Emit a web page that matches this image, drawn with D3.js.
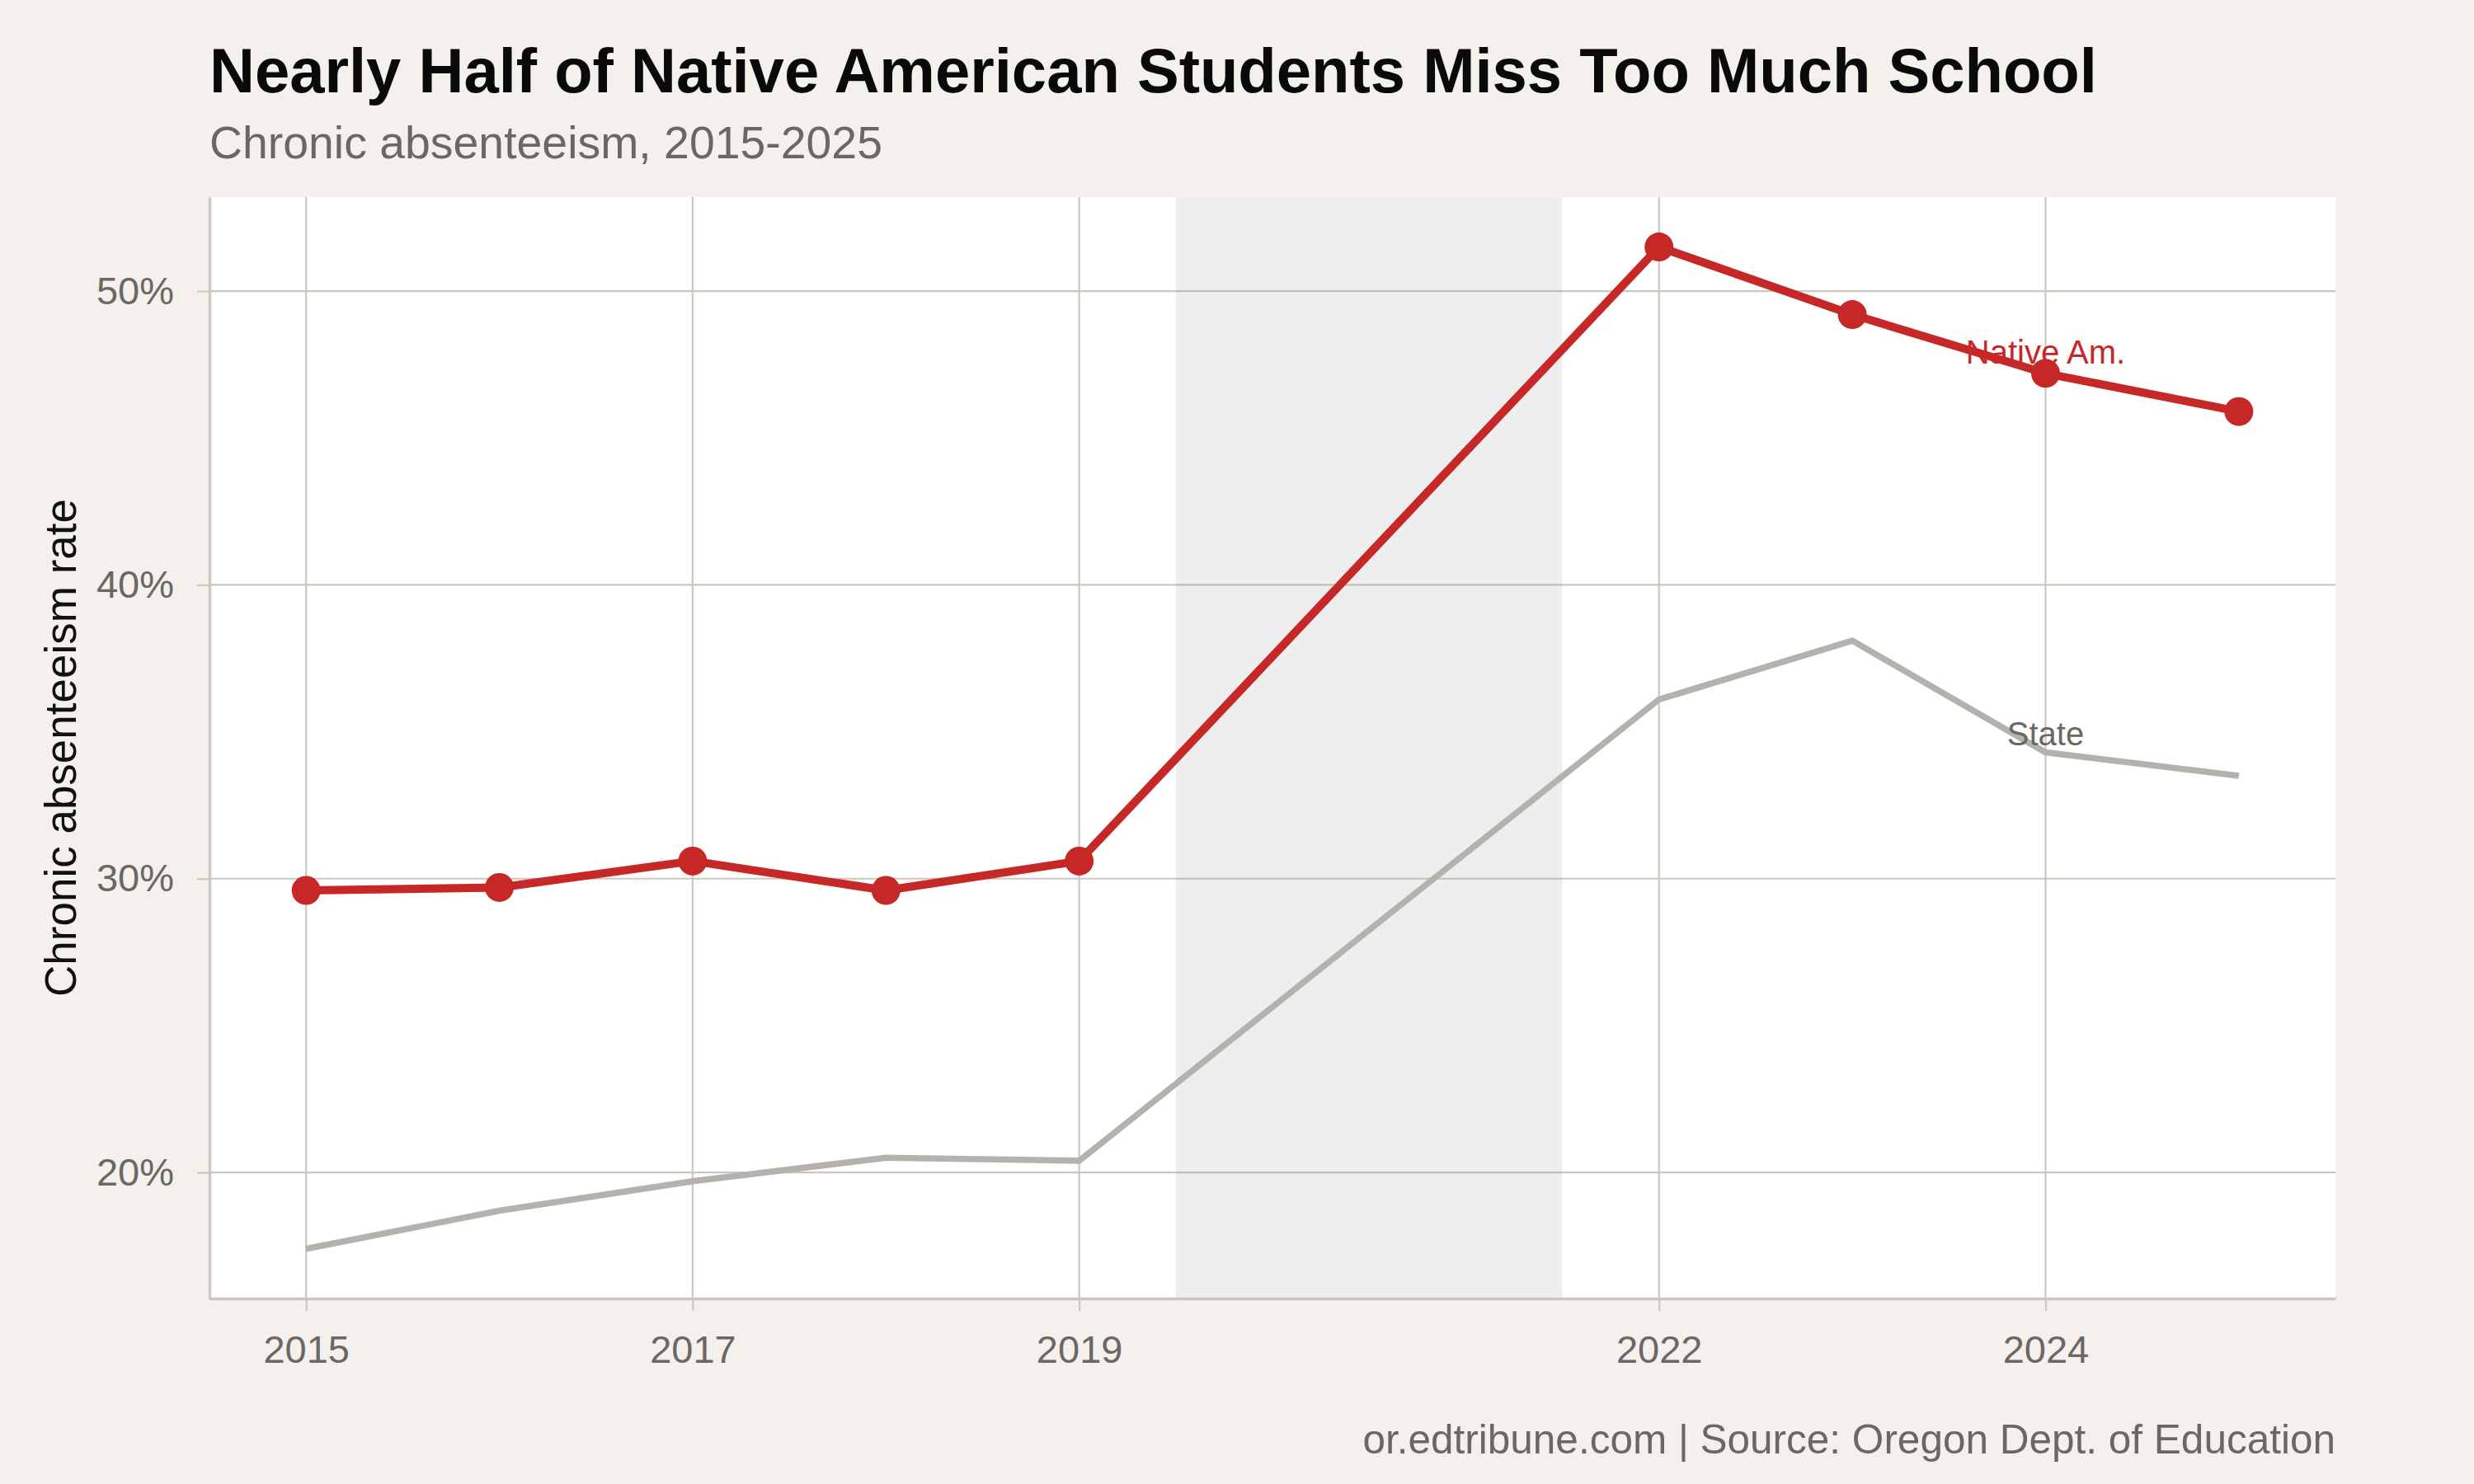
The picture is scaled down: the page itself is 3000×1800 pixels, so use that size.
<!DOCTYPE html>
<html>
<head>
<meta charset="utf-8">
<script src="https://cdn.jsdelivr.net/npm/d3@7"></script>
<style>
  body { margin: 0; background: #f4f1ec; }
  text { font-family: "Liberation Sans", Arial, Helvetica, sans-serif; }
</style>
</head>
<body>
<div id="chart"></div>
<script>
// data
const years = [2015, 2016, 2017, 2018, 2019, 2022, 2023, 2024, 2025]
const nativeAm = [29.6, 29.7, 30.6, 29.6, 30.6, 51.5, 49.2, 47.2, 45.9]
const stateAvg = [17.4, 18.7, 19.7, 20.5, 20.4, 36.1, 38.1, 34.3, 33.5]
const xTicks = [2015, 2017, 2019, 2022, 2024]
const yTicks = [20, 30, 40, 50]
const covidGap = [2019.5, 2021.5]
const labelYear = 2024

const W = 3000, H = 1800
const margin = {top: 239, right: 168, bottom: 225, left: 254}

const RED = "#c62828", GREY_LINE = "#b5b2ae", GRID = "#cdc6bd", TXT = "#6b6762"

const svg = d3.select("#chart").append("svg")
  .attr("width", W).attr("height", H)

svg.append("rect").attr("width", W).attr("height", H).attr("fill", "#f4f1ec")

const x = d3.scaleLinear().domain([2014.5, 2025.5]).range([margin.left, W - margin.right])
const y = d3.scaleLinear().domain([15.71, 53.2]).range([H - margin.bottom, margin.top])

// panel
svg.append("rect")
  .attr("x", x.range()[0]).attr("y", y.range()[1])
  .attr("width", x.range()[1] - x.range()[0])
  .attr("height", y.range()[0] - y.range()[1])
  .attr("fill", "#fff")

// gridlines
svg.append("g").selectAll("line").data(yTicks).join("line")
  .attr("x1", x.range()[0]).attr("x2", x.range()[1])
  .attr("y1", d => y(d)).attr("y2", d => y(d))
  .attr("stroke", GRID).attr("stroke-width", 2.2)
svg.append("g").selectAll("line").data(xTicks).join("line")
  .attr("y1", y.range()[0]).attr("y2", y.range()[1])
  .attr("x1", d => x(d)).attr("x2", d => x(d))
  .attr("stroke", GRID).attr("stroke-width", 2.2)

// shaded covid years
svg.append("rect")
  .attr("x", x(covidGap[0])).attr("width", x(covidGap[1]) - x(covidGap[0]))
  .attr("y", y.range()[1]).attr("height", y.range()[0] - y.range()[1])
  .attr("fill", "#888").attr("fill-opacity", 0.14)

// axes
const xAxis = svg.append("g")
  .attr("transform", "translate(0," + y.range()[0] + ")")
  .call(d3.axisBottom(x).tickValues(xTicks).tickFormat(d3.format("d")).tickSize(15).tickPadding(30).tickSizeOuter(0))
const yAxis = svg.append("g")
  .attr("transform", "translate(" + x.range()[0] + ",0)")
  .call(d3.axisLeft(y).tickValues(yTicks).tickFormat(d => d + "%").tickSize(15).tickPadding(28).tickSizeOuter(0))

for (const ax of [xAxis, yAxis]) {
  ax.select(".domain").attr("stroke", GRID).attr("stroke-width", 3.5)
  ax.selectAll(".tick line").attr("stroke", GRID).attr("stroke-width", 2.2)
  ax.selectAll(".tick text").attr("fill", TXT).attr("font-size", 47)
    .attr("font-family", "'Liberation Sans', Arial, Helvetica, sans-serif")
}
xAxis.selectAll(".tick text").attr("dy", "0.71em")

// lines
const rows = years.map((yr, i) => ({year: yr, native: nativeAm[i], state: stateAvg[i]}))

svg.append("path").datum(rows)
  .attr("fill", "none").attr("stroke", GREY_LINE).attr("stroke-width", 7.5)
  .attr("d", d3.line().x(d => x(d.year)).y(d => y(d.state)))

svg.append("path").datum(rows)
  .attr("fill", "none").attr("stroke", RED).attr("stroke-width", 10)
  .attr("stroke-linejoin", "round")
  .attr("d", d3.line().x(d => x(d.year)).y(d => y(d.native)))

svg.append("g").selectAll("circle").data(rows).join("circle")
  .attr("cx", d => x(d.year)).attr("cy", d => y(d.native))
  .attr("r", 17.5).attr("fill", RED)

// direct labels
const lbl = rows.find(d => d.year === labelYear)
svg.append("text")
  .attr("x", x(labelYear)).attr("y", y(lbl.native) - 12)
  .attr("text-anchor", "middle").attr("font-size", 40).attr("fill", RED)
  .text("Native Am.")
svg.append("text")
  .attr("x", x(labelYear)).attr("y", y(lbl.state) - 9)
  .attr("text-anchor", "middle").attr("font-size", 40).attr("fill", TXT)
  .text("State")

// titles
svg.append("text").attr("x", 254).attr("y", 112)
  .attr("font-size", 76).attr("font-weight", "bold").attr("fill", "#0a0a0a")
  .text("Nearly Half of Native American Students Miss Too Much School")
svg.append("text").attr("x", 254).attr("y", 192)
  .attr("font-size", 55.4).attr("fill", TXT)
  .text("Chronic absenteeism, 2015-2025")

// y axis title
svg.append("text")
  .attr("transform", "translate(92," + (y.range()[0] + y.range()[1]) / 2 + ") rotate(-90)")
  .attr("text-anchor", "middle").attr("font-size", 53).attr("fill", "#111")
  .text("Chronic absenteeism rate")

// caption
svg.append("text").attr("x", x.range()[1]).attr("y", 1763)
  .attr("text-anchor", "end").attr("font-size", 49.5).attr("fill", TXT)
  .text("or.edtribune.com | Source: Oregon Dept. of Education")
</script>
</body>
</html>
